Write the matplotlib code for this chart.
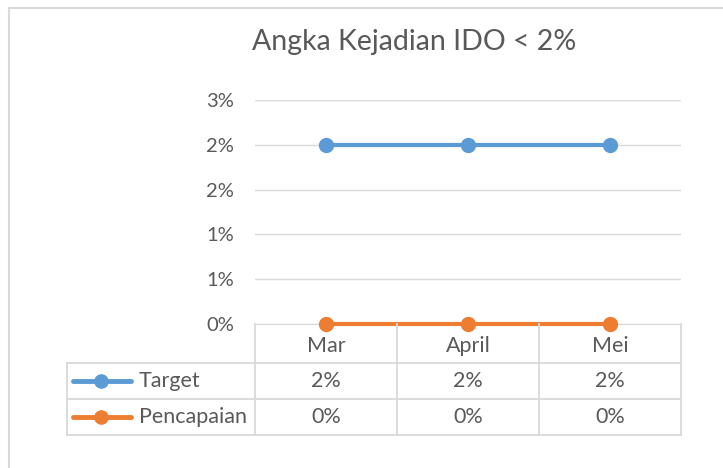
import matplotlib
matplotlib.use('Agg')
import matplotlib.pyplot as plt
from matplotlib.patches import Rectangle

# data
months = ['Mar', 'April', 'Mei']
series_names = ['Target', 'Pencapaian']
target = [0.02, 0.02, 0.02]
pencapaian = [0.0, 0.0, 0.0]
y_ticks = [0.0, 0.005, 0.01, 0.015, 0.02, 0.025]
y_tick_labels = ['0%', '1%', '1%', '2%', '2%', '3%']
title = 'Angka Kejadian IDO < 2%'

colors = ['#5B9BD5', '#ED7D31']
grid_c = '#D9D9D9'
text_c = '#595959'
plt.rcParams['font.family'] = ['Lato', 'DejaVu Sans']

W, H = 723, 468
fig = plt.figure(figsize=(W / 100, H / 100), dpi=100)


def fx(px):
    return px / W


def fy(py):
    return 1 - py / H


# chart border (runs off the right and bottom of the picture)
fig.add_artist(Rectangle((fx(9), fy(480)), fx(740 - 9), (480 - 8) / H, transform=fig.transFigure,
                         fill=False, ec=grid_c, lw=1.5))

fig.text(fx(414), fy(42), title, fontsize=20.5, color=text_c, ha='center', va='center')

# plot area
L, R, T, B = 255, 681, 100, 324
ax = fig.add_axes([fx(L), fy(B), fx(R - L), (B - T) / H])
x = list(range(len(months)))
for vals, c in zip([target, pencapaian], colors):
    ax.plot(x, vals, color=c, lw=3, marker='o', ms=10, zorder=3, clip_on=False)
ax.set_xlim(-0.5, len(months) - 0.5)
ax.set_ylim(0, y_ticks[-1])
ax.set_yticks(y_ticks)
ax.set_yticklabels(y_tick_labels)
ax.yaxis.grid(True, color=grid_c, lw=1)
ax.set_axisbelow(True)
for s in ['top', 'right', 'left']:
    ax.spines[s].set_visible(False)
ax.spines['bottom'].set_color(grid_c)
ax.tick_params(axis='y', length=0, pad=15, labelsize=14.5, labelcolor=text_c)
ax.tick_params(axis='x', length=0, labelbottom=False)

# data table
TL, TB = 67, 435
row_y = [324, 362.5, 399, 435]
tab = fig.add_axes([fx(TL), fy(TB), fx(R - TL), (TB - B) / H])
tab.set_xlim(TL, R)
tab.set_ylim(TB, B)
tab.axis('off')
col_w = (R - L) / len(months)
col_x = [L + i * col_w for i in range(len(months) + 1)]
for cx in col_x:
    tab.plot([cx, cx], [row_y[0], row_y[-1]], color=grid_c, lw=1.3, clip_on=False)
tab.plot([TL, TL], [row_y[1], row_y[-1]], color=grid_c, lw=1.3, clip_on=False)
for ry in row_y[1:]:
    tab.plot([TL, R], [ry, ry], color=grid_c, lw=1.3, clip_on=False)

fs = 15.5
for i, m in enumerate(months):
    tab.text(L + (i + 0.5) * col_w, (row_y[0] + row_y[1]) / 2 + 3, m, ha='center', va='center',
             fontsize=fs, color=text_c)
for r, (name, vals, c) in enumerate(zip(series_names, [target, pencapaian], colors)):
    cy = (row_y[r + 1] + row_y[r + 2]) / 2
    tab.plot([73, 101, 131], [cy, cy, cy], color=c, lw=3.5, solid_capstyle='round',
             marker='o', ms=9.5, markevery=[1], clip_on=False)
    tab.text(139, cy, name, ha='left', va='center', fontsize=fs, color=text_c)
    for i, v in enumerate(vals):
        tab.text(L + (i + 0.5) * col_w, cy, f'{v * 100:.0f}%', ha='center', va='center',
                 fontsize=fs, color=text_c)

fig.savefig('out.png', dpi=100)
